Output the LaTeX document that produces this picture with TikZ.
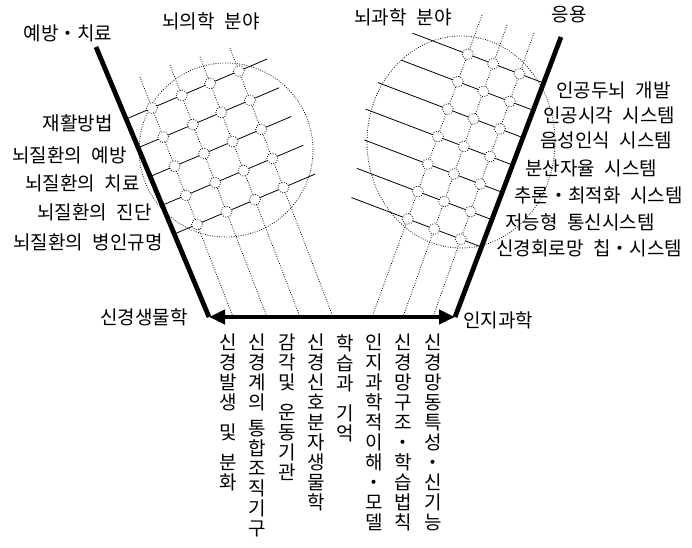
\documentclass[tikz,border=0pt]{standalone}
\usepackage{fontspec}
\setmainfont{Noto Sans CJK KR}[WordSpace=2.3]
\usetikzlibrary{arrows.meta,calc,intersections}

\begin{document}
\begin{tikzpicture}[x=1pt,y=-1pt,
  armline/.style={line width=4.8pt},
  gridline/.style={line width=0.8pt},
  dotline/.style={line width=0.8pt,dash pattern=on 0.8pt off 1.6pt},
  gridnode/.style={circle,draw,dotline,fill=white,inner sep=0pt,minimum size=11pt},
  lbl/.style={font=\fontsize{19}{20}\selectfont,inner sep=0pt},
  vlbl/.style={lbl,anchor=north,align=center}]
  \useasboundingbox (0,0) rectangle (692,547);
  \coordinate (lt) at (96,47);
  \coordinate (lc) at (209,317);
  \coordinate (rc) at (455,317);
  \coordinate (rt) at (561,37);

  % brain medicine lattice
  \draw[dotline] (226,150) circle [radius=87pt];
  \foreach \i in {1,...,5} {
    \coordinate (lsa\i) at ($(lt)!{0.2667+0.1065*(\i-1)}!(lc)$);
    \draw[gridline,name path global=ls\i] (lsa\i) -- ++(141,-60);
  }
  \foreach \j/\xt/\yt/\xb in {1/140/77/233,2/170/65/267,3/200/57/300,4/230/48/333} {
    \coordinate (ldt\j) at (\xt,\yt);
    \coordinate (ldb\j) at (\xb,317);
    \draw[dotline,name path global=ld\j] (ldt\j) -- (ldb\j);
  }
  \foreach \i in {1,...,5} \foreach \j in {1,...,4} {
    \path[name intersections={of={ls\i} and {ld\j},by={lx\i\j}}];
    \node[gridnode] (ln\i\j) at (lx\i\j) {};
  }

  % brain science lattice
  \draw[dotline] (461,142) ellipse [x radius=94pt,y radius=106pt];
  \foreach \i/\len in {1/131,2/132,3/145,4/147,5/138,6/135,7/130} {
    \coordinate (rsa\i) at ($(rt)!{(46+27.33*(\i-1))/280}!(rc)$);
    \draw[gridline,name path global=rs\i] (rsa\i) -- ++(-\len,{-0.38*\len});
  }
  \foreach \j/\xt/\yt/\xb in {1/482/15/372,2/507/25/403,3/534/33/433} {
    \coordinate (rdt\j) at (\xt,\yt);
    \coordinate (rdb\j) at (\xb,317);
    \draw[dotline,name path global=rd\j] (rdt\j) -- (rdb\j);
  }
  \foreach \i in {1,...,7} \foreach \j in {1,...,3} {
    \path[name intersections={of={rs\i} and {rd\j},by={rx\i\j}}];
    \node[gridnode] (rn\i\j) at (rx\i\j) {};
  }

  \draw[armline] (lt) -- (lc);
  \draw[armline] (rc) -- (rt);
  \draw[armline,{Triangle[length=16pt,width=14pt]}-{Triangle[length=16pt,width=14pt]}] (lc) -- (rc);

  \node[lbl] (prev) at (68,33) {예방・치료};
  \node[lbl] (medf) at (211,21) {뇌의학 분야};
  \node[lbl] (scif) at (403,17) {뇌과학 분야};
  \node[lbl] (appl) at (569,15) {응용};

  \node[lbl,anchor=east] (med1) at (113,123) {재활방법};
  \node[lbl,anchor=east] (med2) at (127,155) {뇌질환의 예방};
  \node[lbl,anchor=east] (med3) at (140,183) {뇌질환의 치료};
  \node[lbl,anchor=east] (med4) at (152,212) {뇌질환의 진단};
  \node[lbl,anchor=east] (med5) at (163,242) {뇌질환의 병인규명};

  \node[lbl,anchor=west] (app1) at (556,90) {인공두뇌 개발};
  \node[lbl,anchor=west] (app2) at (543,115) {인공시각 시스템};
  \node[lbl,anchor=west] (app3) at (540,140) {음성인식 시스템};
  \node[lbl,anchor=west] (app4) at (525,168) {분산자율 시스템};
  \node[lbl,anchor=west] (app5) at (514,195) {추론・최적화 시스템};
  \node[lbl,anchor=west] (app6) at (505,222) {저능형 통신시스템};
  \node[lbl,anchor=west] (app7) at (496,248) {신경회로망 칩・시스템};

  \node[lbl] (nbio) at (144,317) {신경생물학};
  \node[lbl] (cogs) at (498,320) {인지과학};

  \node[vlbl] (top1) at (228,334) {신\\경\\발\\생\\[10pt]및\\[10pt]분\\화};
  \node[vlbl] (top2) at (257,334) {신\\경\\계\\의\\[6pt]통\\합\\조\\직\\기\\구};
  \node[vlbl] (top3) at (287,334) {감\\각\\및\\[10pt]운\\동\\기\\관};
  \node[vlbl] (top4) at (316,334) {신\\경\\신\\호\\분\\자\\생\\물\\학};
  \node[vlbl] (top5) at (345,334) {학\\습\\과\\[10pt]기\\억};
  \node[vlbl] (top6) at (374,334) {인\\지\\과\\학\\적\\이\\해\\・\\모\\델};
  \node[vlbl] (top7) at (403,334) {신\\경\\망\\구\\조\\・\\학\\습\\법\\칙};
  \node[vlbl] (top8) at (433,334) {신\\경\\망\\동\\특\\성\\・\\신\\기\\능};
\end{tikzpicture}
\end{document}
